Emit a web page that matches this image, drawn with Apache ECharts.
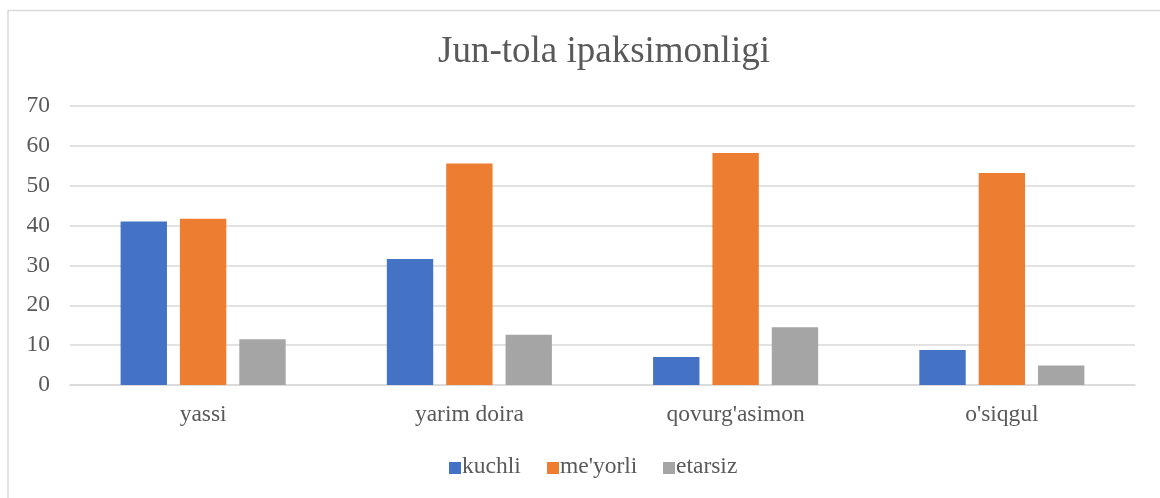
<!doctype html>
<html>
<head>
<meta charset="utf-8">
<title>Jun-tola ipaksimonligi</title>
<script src="https://cdn.jsdelivr.net/npm/echarts@6/dist/echarts.min.js"></script>
<style>
    html,body{
        margin: 0;
        padding: 0;
        width: 100%;
        height: 100%;
        background: #fff;
    }
    #bar_chart{
        width: 1160px;
        height: 498px;
    }
</style>
</head>
<body>
    <div id="bar_chart"></div>
<script>
    var categories = ['yassi', 'yarim doira', "qovurg'asimon", "o'siqgul"];
    var kuchli = [41.0, 31.6, 7.0, 8.8];
    var meyorli = [41.7, 55.6, 58.2, 53.2];
    var etarsiz = [11.5, 12.6, 14.5, 4.9];
    var seriesNames = ['kuchli', "me'yorli", 'etarsiz'];
    var yTicks = [0, 10, 20, 30, 40, 50, 60, 70];

    var font = 'Liberation Serif';
    var textColor = '#595959';
    // legend keys sit at these x positions, the label is written next to each key
    var legendX = [444, 542, 658];

    var bar_chart = echarts.init(document.getElementById('bar_chart'));

    // the legend text did not take the serif font, so each entry gets its own
    // one-item legend for the key and a graphic text for the label
    var legends = seriesNames.map(function (n, i) {
        return {
            data: [n],
            left: legendX[i],
            top: 457,
            itemWidth: 12,
            itemHeight: 12,
            itemGap: 0,
            icon: 'rect',
            formatter: ' ',
            textStyle: { fontSize: 12, color: textColor }
        };
    });
    var legendLabels = seriesNames.map(function (n, i) {
        return {
            type: 'text',
            left: legendX[i] + 18,
            top: 455,
            silent: true,
            style: {
                text: n,
                fill: textColor,
                font: '23.5px "Liberation Serif", "Times New Roman", serif'
            }
        };
    });

    var bar_option = {
        animation: false,
        textStyle: { fontFamily: font },
        color: ['#4472C4', '#ED7D31', '#A5A5A5'],
        title: {
            text: 'Jun-tola ipaksimonligi',
            left: 433,
            top: 29,
            textStyle: {
                color: textColor,
                fontFamily: font,
                fontWeight: 'normal',
                fontSize: 37
            }
        },
        graphic: [{
            // chart frame
            type: 'rect',
            shape: { x: 8, y: 10.5, width: 1180, height: 520 },
            style: { fill: null, stroke: '#d9d9d9', lineWidth: 1.5 },
            silent: true
        }].concat(legendLabels),
        legend: legends,
        grid: {
            left: 70,
            right: 25,
            top: 106,
            bottom: 113
        },
        xAxis: {
            type: 'category',
            data: categories,
            axisLine: { lineStyle: { color: '#d9d9d9', width: 1.5 } },
            axisTick: { show: false },
            axisLabel: {
                color: textColor,
                fontFamily: font,
                fontSize: 23.5,
                margin: 18
            }
        },
        yAxis: {
            type: 'value',
            min: yTicks[0],
            max: yTicks[yTicks.length - 1],
            interval: 10,
            axisLine: { show: false },
            axisTick: { show: false },
            splitLine: { lineStyle: { color: '#d9d9d9', width: 1.5 } },
            axisLabel: {
                color: textColor,
                fontFamily: font,
                fontSize: 23.5,
                margin: 20
            }
        },
        series: [
            { name: seriesNames[0], type: 'bar', data: kuchli, barGap: '28%', barCategoryGap: '38%' },
            { name: seriesNames[1], type: 'bar', data: meyorli, barGap: '28%', barCategoryGap: '38%' },
            { name: seriesNames[2], type: 'bar', data: etarsiz, barGap: '28%', barCategoryGap: '38%' }
        ]
    };

    bar_chart.setOption(bar_option);
</script>
</body>
</html>
